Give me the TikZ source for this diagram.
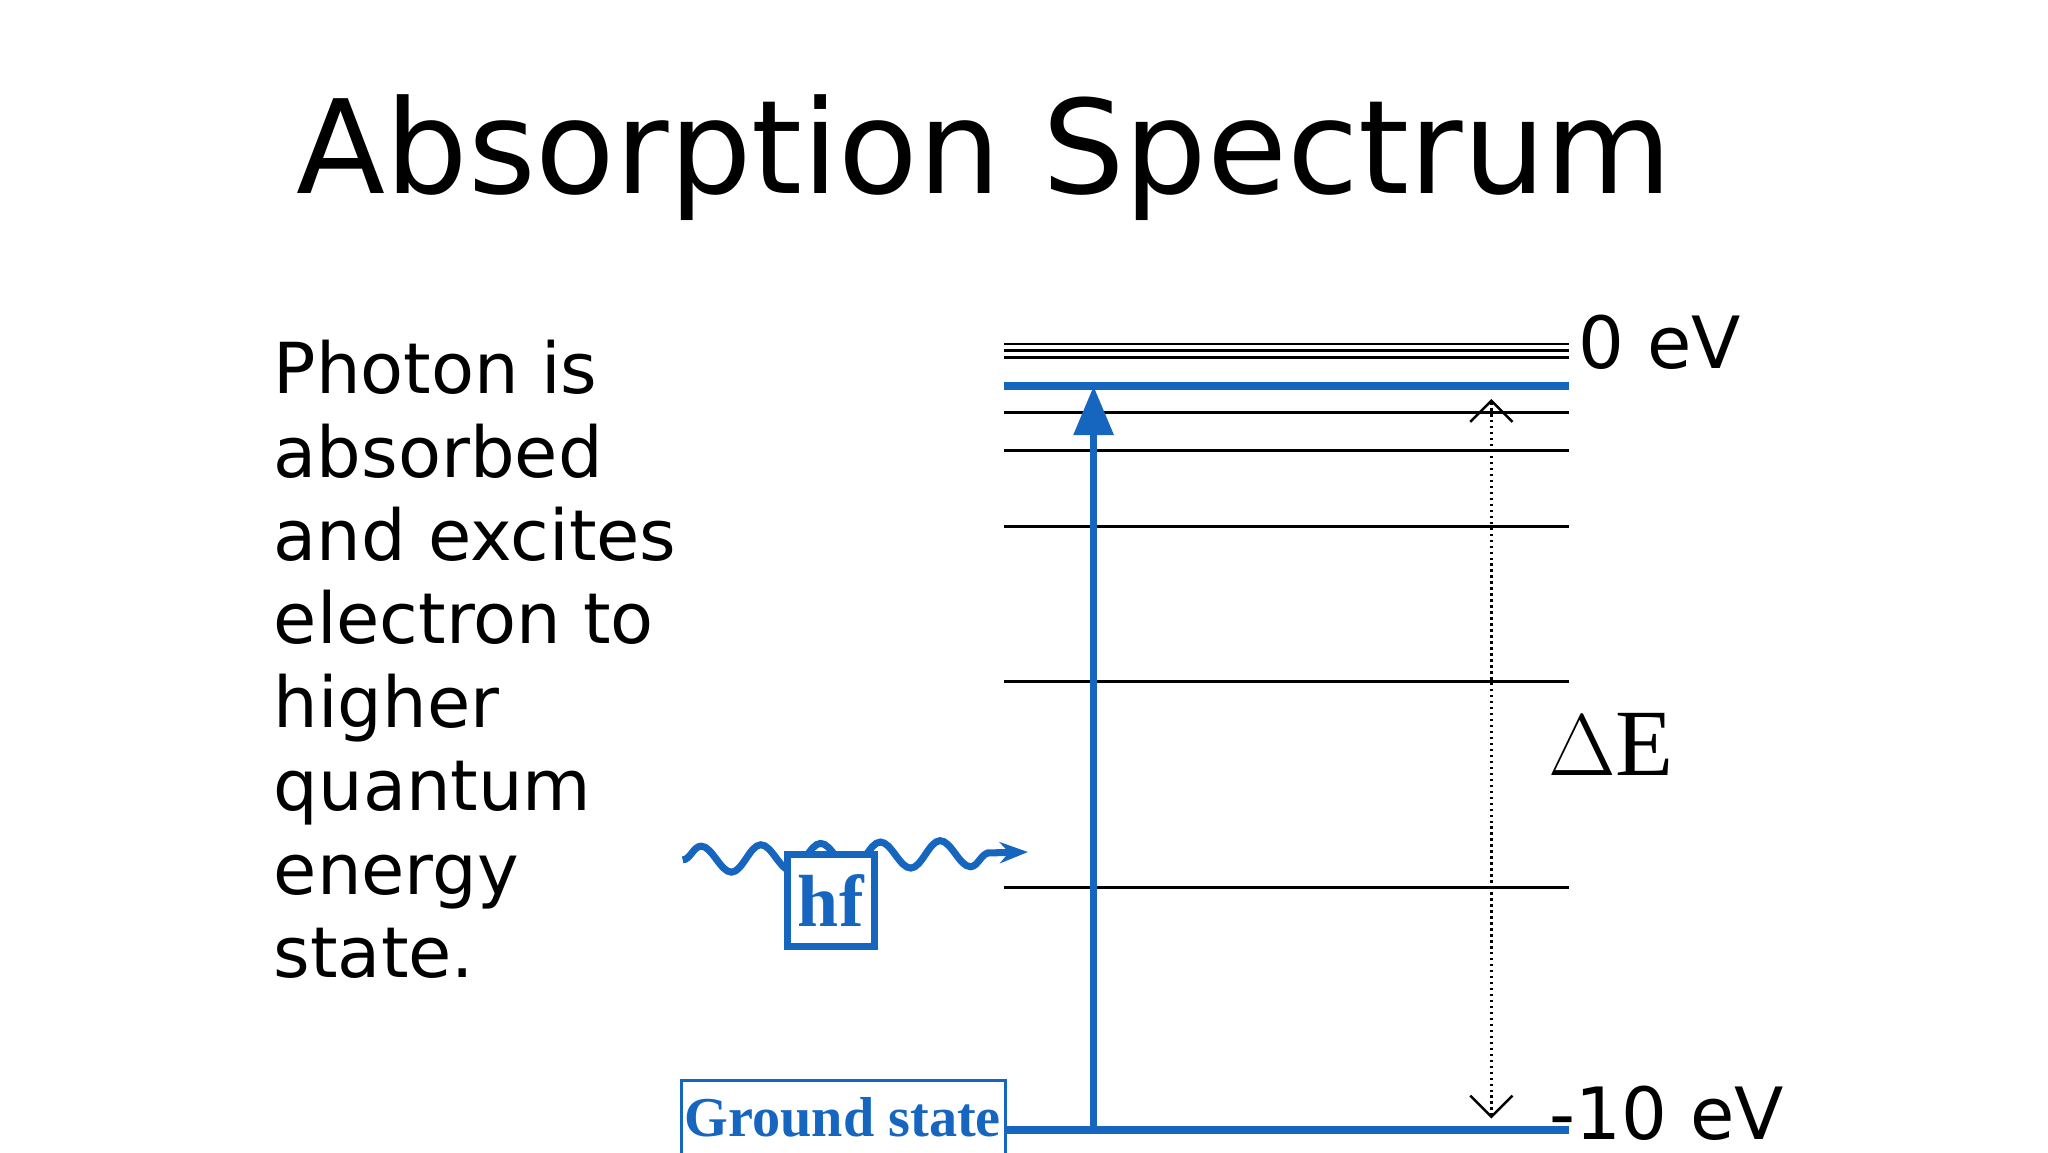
\documentclass[tikz,border=0pt]{standalone}
\usepackage{fontspec}
\setmainfont{DejaVu Sans}
\newfontfamily\serf{Liberation Serif}
\usetikzlibrary{arrows.meta,decorations.pathmorphing}
\definecolor{bl}{RGB}{22,102,192}
\tikzset{lvl/.style={line width=0.8pt},
 blv/.style={bl,line width=2.2pt},
 body/.style={anchor=base west,inner sep=0,font=\fontsize{20}{22}\selectfont},
 lab/.style={anchor=base west,inner sep=0,font=\fontsize{20.5}{22}\selectfont}}
\begin{document}
\begin{tikzpicture}[x=0.013128cm,y=-0.013128cm]
\useasboundingbox (0,0) rectangle (1560,877.5);
\node (title) [inner sep=0,font=\fontsize{37}{40}\selectfont] at (750,120) {Absorption Spectrum};
\foreach \t [count=\i] in {Photon is,absorbed,and excites,electron to,higher,quantum,energy,state.}
  \node (l\i) [body] at (208,{300+(\i-1)*63.5}) {\t};
% levels
\foreach \y in {262,267,272,314,343,401,519,676}
  \draw[lvl] (765,\y) -- (1195,\y);
\draw[blv] (765,294) -- (1195,294);
\draw[blv] (765,861) -- (1195,861);
\coordinate (a0) at (833,861); \coordinate (a1) at (833,294);
\draw[bl,line width=2.2pt,-{Triangle[length=14pt,width=11pt]}] (a0) -- (a1);
\coordinate (d0) at (1136,304); \coordinate (d1) at (1136,852);
\draw[densely dotted,line width=0.7pt,{Straight Barb[length=6pt]}-{Straight Barb[length=6pt]}] (d0) -- (d1);
\node (de) [inner sep=0,font=\serf\fontsize{27}{30}\selectfont] at (1227,567) {$\Delta$E};
\node (z) [lab] at (1202,281) {0 eV};
\node (m) [lab] at (1180,868) {-10 eV};
% photon
\coordinate (w0) at (520,655); \coordinate (w1) at (783,649);
\draw[bl,line width=2pt,-{Stealth[length=8pt]},decorate,decoration={snake,amplitude=3.8pt,segment length=17pt,post length=8pt}] (w0) -- (w1);
\node (hf) [draw=bl,line width=2pt,text=bl,font=\serf\bfseries\fontsize{21}{24}\selectfont,inner sep=0,minimum width=0.87cm,minimum height=0.92cm,anchor=north west,fill=white] at (597,648) {hf};
\draw[bl,line width=1pt] (519,823) rectangle (766,900);
\node (gs) [text=bl,font=\serf\bfseries\fontsize{16}{18}\selectfont,inner sep=0,anchor=base] at (642,866) {Ground state};
\end{tikzpicture}
\end{document}
